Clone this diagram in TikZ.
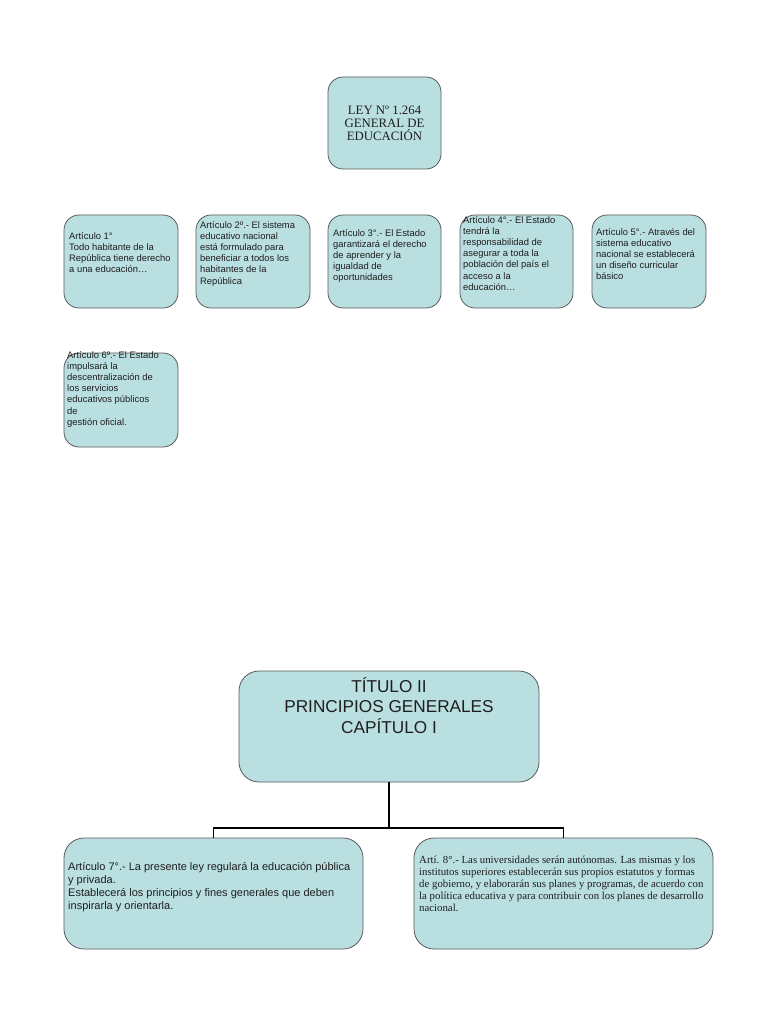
\documentclass[tikz,border=0pt]{standalone}
\usepackage{fontspec}
\setmainfont{Liberation Serif}
\setsansfont{Liberation Sans}
\usetikzlibrary{calc}
\definecolor{boxblue}{HTML}{BADFE1}
\definecolor{boxline}{HTML}{5A5A5A}
\definecolor{txtcol}{HTML}{1E1E1E}
\tikzset{
  card/.style={draw=boxline, fill=boxblue, line width=0.8pt, rounded corners=15pt, inner sep=0pt},
  bigcard/.style={draw=boxline, fill=boxblue, line width=0.8pt, rounded corners=20pt, inner sep=0pt},
  small/.style={inner sep=0pt, anchor=north west, align=left, text=txtcol, font=\sffamily\fontsize{9.4}{11.2}\selectfont},
  mid/.style={inner sep=0pt, anchor=north west, align=left, text=txtcol, font=\sffamily\fontsize{11}{13}\selectfont},
  serifsmall/.style={inner sep=0pt, anchor=north west, align=left, text=txtcol, font=\rmfamily\fontsize{10.8}{12}\selectfont},
  conn/.style={draw=black, line width=1.5pt}
}
\begin{document}
\begin{tikzpicture}[x=1pt,y=-1pt]
\useasboundingbox (0,0) rectangle (768,1024);
\fill[white] (0,0) rectangle (768,1024);

% Top title
\node[card, minimum width=113pt, minimum height=92pt] (ley) at (384.5,123) {};
\node[inner sep=0pt, align=center, text=txtcol, font=\rmfamily\fontsize{12.8}{13}\selectfont] (leyt) at (384.5,123) {LEY Nº 1.264\\GENERAL DE\\EDUCACIÓN};

% Row of articles
\node[card, minimum width=114pt, minimum height=93pt] (a1) at (121,261.5) {};
\node[card, minimum width=114pt, minimum height=93pt] (a2) at (253,261.5) {};
\node[card, minimum width=113pt, minimum height=93pt] (a3) at (384.5,261.5) {};
\node[card, minimum width=113pt, minimum height=93pt] (a4) at (516.5,261.5) {};
\node[card, minimum width=114pt, minimum height=93pt] (a5) at (649,261.5) {};
\node[card, minimum width=114pt, minimum height=94pt] (a6) at (121,400) {};

\node[small] (t1) at (69,232) {Artículo 1°\\Todo habitante de la\\República tiene derecho\\a una educación…};
\node[small] (t2) at (200,221) {Artículo 2º.- El sistema\\educativo nacional\\está formulado para\\beneficiar a todos los\\habitantes de la\\República};
\node[small] (t3) at (333,229) {Artículo 3°.- El Estado\\garantizará el derecho\\de aprender y la\\igualdad de\\oportunidades};
\node[small] (t4) at (463,216) {Artículo 4°.- El Estado\\tendrá la\\responsabilidad de\\asegurar a toda la\\población del país el\\acceso a la\\educación…};
\node[small] (t5) at (596,228) {Artículo 5°.- Através del\\sistema educativo\\nacional se establecerá\\un diseño curricular\\básico};
\node[small] (t6) at (67,351) {Artículo 6º.- El Estado\\impulsará la\\descentralización de\\los servicios\\educativos públicos\\de\\gestión oficial.};

% Second part
\node[bigcard, minimum width=300pt, minimum height=111pt] (tit) at (389,726.5) {};
\node[inner sep=0pt, align=center, text=txtcol, font=\sffamily\fontsize{17.2}{20.5}\selectfont, anchor=north] (titt) at (389,677) {TÍTULO II\\PRINCIPIOS GENERALES\\CAPÍTULO I};

\node[bigcard, minimum width=299pt, minimum height=111pt] (a7) at (213.5,893.5) {};
\node[bigcard, minimum width=299pt, minimum height=111pt] (a8) at (563.5,893.5) {};

\node[mid] (t7) at (68,862) {Artículo 7°.- La presente ley regulará la educación pública\\y privada.\\Establecerá los principios y fines generales que deben\\inspirarla y orientarla.};
\node[serifsmall] (t8) at (419,856) {Artí. 8°.- Las universidades serán autónomas. Las mismas y los\\institutos superiores establecerán sus propios estatutos y formas\\de gobierno, y elaborarán sus planes y programas, de acuerdo con\\la política educativa y para contribuir con los planes de desarrollo\\nacional.};

% Connectors
\coordinate (j) at (389,828);
\draw[conn] (tit.south) -- (j);
\draw[conn] (j) -| (a7.north);
\draw[conn] (j) -| (a8.north);
\end{tikzpicture}
\end{document}
